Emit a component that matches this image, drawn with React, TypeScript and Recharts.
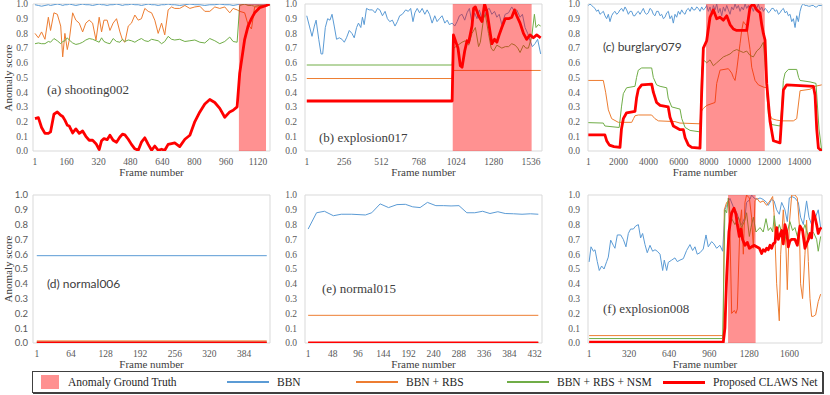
import React from "react";
import { LineChart, Line, XAxis, YAxis, ReferenceArea, Label } from "recharts";

const serif = "'Liberation Serif', 'Times New Roman', serif";
const sans = "Lato, 'Liberation Sans', sans-serif";

const BLUE = "#5b9bd5";
const ORANGE = "#ed7d31";
const GREEN = "#70ad47";
const RED = "#ff0000";

type Pt = [number, number];

const yTicks = [0, 0.1, 0.2, 0.3, 0.4, 0.5, 0.6, 0.7, 0.8, 0.9, 1.0];

// ---- (a) shooting002 ----
const aTicks = [1, 160, 320, 480, 640, 800, 960, 1120];
const aFrames = [1, 18, 34, 51, 68, 79, 96, 113, 130, 140, 151, 163, 173, 190, 206, 223, 240, 256, 273, 290, 307, 323, 335, 347, 363, 377, 393, 410, 427, 440, 452, 469, 485, 502, 519, 535, 552, 569, 586, 602, 619, 636, 652, 669, 686, 702, 727, 753, 778, 803, 828, 853, 878, 903, 928, 953, 978, 995, 1015, 1028, 1053, 1070, 1087, 1103, 1128, 1162, 1178];
const aBBN = [0.995, 0.99, 0.985, 0.99, 0.995, 0.99, 0.995, 1.0, 0.995, 0.99, 0.995, 0.995, 1.0, 0.995, 0.99, 0.995, 1.0, 0.995, 0.995, 0.99, 0.995, 1.0, 0.995, 0.995, 0.99, 0.995, 0.995, 1.0, 0.995, 0.99, 0.995, 0.995, 1.0, 0.995, 0.995, 0.99, 0.995, 1.0, 0.995, 0.995, 0.99, 0.995, 0.995, 1.0, 0.995, 0.995, 0.99, 0.995, 1.0, 0.995, 0.995, 0.99, 0.995, 0.995, 1.0, 0.995, 0.995, 0.99, 0.995, 1.0, 1.0, 1.0, 1.0, 1.0, 1.0, 1.0, 1.0];
const aRBS = [0.8, 0.77, 0.81, 0.76, 0.91, 0.82, 0.94, 0.93, 0.85, 0.64, 0.8, 0.69, 0.755, 0.94, 0.89, 0.87, 0.81, 0.87, 0.89, 0.87, 0.755, 0.91, 0.81, 0.89, 0.89, 0.82, 0.87, 0.9, 0.81, 0.755, 0.74, 0.85, 0.87, 0.925, 0.89, 0.9, 0.97, 0.95, 0.94, 0.89, 0.8, 0.87, 0.79, 0.96, 0.98, 0.97, 0.97, 0.99, 0.97, 0.98, 0.985, 0.95, 0.95, 0.98, 0.97, 0.98, 0.94, 0.97, 0.96, 0.95, 0.94, 0.86, 0.83, 0.98, 0.98, 0.99, 0.99];
const aNSM = [0.73, 0.735, 0.73, 0.73, 0.745, 0.74, 0.765, 0.75, 0.73, 0.745, 0.75, 0.77, 0.755, 0.735, 0.725, 0.73, 0.74, 0.755, 0.765, 0.76, 0.75, 0.74, 0.77, 0.745, 0.735, 0.73, 0.765, 0.745, 0.74, 0.76, 0.745, 0.755, 0.75, 0.74, 0.755, 0.765, 0.75, 0.745, 0.76, 0.755, 0.75, 0.73, 0.745, 0.78, 0.76, 0.755, 0.76, 0.745, 0.75, 0.755, 0.74, 0.735, 0.765, 0.75, 0.73, 0.745, 0.775, 0.745, 0.74, 0.99, 1.0, 0.99, 0.99, 0.985, 0.99, 0.99, 0.99];
const aCLAWS = [0.22, 0.227, 0.16, 0.12, 0.12, 0.13, 0.25, 0.266, 0.243, 0.235, 0.21, 0.175, 0.17, 0.123, 0.15, 0.12, 0.136, 0.1, 0.073, 0.073, 0.05, 0.01, 0.07, 0.084, 0.077, 0.107, 0.073, 0.06, 0.095, 0.115, 0.11, 0.08, 0.045, 0.015, 0.005, 0.06, 0.09, 0.045, 0.005, 0.034, 0.005, 0.012, 0.005, 0.045, 0.05, 0.055, 0.03, 0.08, 0.107, 0.2, 0.266, 0.32, 0.35, 0.33, 0.29, 0.23, 0.266, 0.277, 0.3, 0.53, 0.76, 0.85, 0.9, 0.94, 0.975, 0.99, 1.0];
const aGT: Pt = [1024, 1160];

// ---- (b) explosion017 ----
const bTicks = [1, 256, 512, 768, 1024, 1280, 1536];
const bBBN: Pt[] = [[1, 0.92], [19, 0.85], [37, 0.78], [53, 0.85], [65, 0.89], [83, 0.76], [99, 0.66], [110, 0.66], [128, 0.84], [144, 0.9], [160, 0.89], [174, 0.93], [189, 0.85], [205, 0.76], [224, 0.77], [242, 0.76], [258, 0.74], [273, 0.77], [292, 0.82], [310, 0.8], [326, 0.77], [342, 0.84], [355, 0.87], [371, 0.84], [382, 0.91], [394, 0.86], [410, 0.97], [428, 0.96], [451, 0.96], [469, 0.94], [485, 0.97], [501, 0.96], [519, 0.92], [537, 0.95], [553, 0.9], [569, 0.88], [587, 0.89], [605, 0.85], [621, 0.88], [637, 0.92], [655, 0.93], [678, 0.96], [696, 0.95], [712, 0.97], [728, 0.88], [741, 0.94], [757, 0.97], [773, 0.94], [791, 0.97], [809, 0.93], [825, 0.96], [841, 0.93], [859, 0.87], [877, 0.92], [893, 0.88], [909, 0.9], [927, 0.92], [946, 0.87], [962, 0.89], [977, 0.86], [996, 0.87], [1014, 0.85], [1030, 0.88], [1046, 0.92], [1064, 0.93], [1082, 0.89], [1098, 0.94], [1114, 0.97], [1132, 0.87], [1150, 0.94], [1166, 0.9], [1182, 0.96], [1200, 0.9], [1218, 0.92], [1234, 0.96], [1250, 0.97], [1268, 0.93], [1286, 0.95], [1302, 0.91], [1318, 0.93], [1336, 0.86], [1359, 0.93], [1382, 0.94], [1404, 0.98], [1423, 0.95], [1438, 0.96], [1461, 0.91], [1477, 0.93], [1495, 0.84], [1513, 0.8], [1529, 0.75], [1545, 0.71], [1563, 0.73], [1581, 0.76], [1602, 0.66]];
const bRBS: Pt[] = [[1, 0.493], [996, 0.493], [1000, 0.548], [1602, 0.548]];
const bNSM: Pt[] = [[1, 0.585], [996, 0.585], [1007, 0.7], [1064, 0.74], [1086, 0.75], [1109, 0.72], [1132, 0.8], [1155, 0.84], [1177, 0.71], [1189, 0.74], [1211, 0.9], [1223, 0.93], [1245, 0.8], [1263, 0.7], [1279, 0.68], [1302, 0.72], [1336, 0.7], [1360, 0.71], [1382, 0.71], [1404, 0.73], [1427, 0.72], [1445, 0.7], [1461, 0.67], [1484, 0.72], [1500, 0.7], [1518, 0.7], [1541, 0.78], [1559, 0.93], [1570, 0.84], [1586, 0.86], [1602, 0.85]];
const bCLAWS: Pt[] = [[1, 0.34], [996, 0.34], [1005, 0.79], [1036, 0.7], [1052, 0.58], [1064, 0.57], [1082, 0.68], [1098, 0.75], [1109, 0.74], [1132, 0.85], [1143, 0.97], [1155, 0.98], [1177, 0.92], [1200, 0.88], [1218, 1.0], [1234, 0.95], [1245, 0.88], [1257, 0.8], [1268, 0.73], [1286, 0.76], [1302, 0.74], [1318, 0.79], [1336, 0.84], [1359, 0.9], [1382, 0.9], [1404, 0.91], [1423, 0.96], [1438, 0.92], [1461, 0.87], [1484, 0.8], [1506, 0.76], [1529, 0.79], [1552, 0.77], [1575, 0.79], [1602, 0.77]];
const bGT: Pt = [1000, 1540];

// ---- (c) burglary079 ----
const cTicks = [1, 2000, 4000, 6000, 8000, 10000, 12000, 14000];
const cBBN: Pt[] = [[1, 0.99], [110, 1.0], [222, 0.99], [330, 0.98], [443, 0.97], [550, 0.95], [664, 0.96], [775, 0.93], [886, 0.94], [1000, 0.95], [1107, 0.92], [1217, 0.9], [1328, 0.93], [1438, 0.88], [1549, 0.92], [1660, 0.94], [1770, 0.95], [1880, 0.93], [1991, 0.94], [2100, 0.96], [2212, 0.97], [2320, 0.95], [2434, 0.98], [2544, 0.96], [2655, 0.93], [2765, 0.95], [2876, 0.95], [2990, 0.92], [3097, 0.92], [3210, 0.94], [3318, 0.95], [3429, 0.93], [3540, 0.95], [3650, 0.97], [3760, 0.94], [3871, 0.93], [3982, 0.94], [4090, 0.97], [4203, 0.96], [4313, 0.93], [4424, 0.92], [4530, 0.95], [4645, 0.95], [4760, 0.92], [4866, 0.93], [4980, 0.9], [5087, 0.91], [5200, 0.94], [5309, 0.95], [5419, 0.9], [5530, 0.92], [5640, 0.87], [5751, 0.93], [5860, 0.91], [5972, 0.95], [6083, 0.93], [6193, 0.96], [6300, 0.94], [6414, 0.93], [6525, 0.96], [6636, 0.97], [6750, 0.95], [6857, 0.98], [6970, 0.96], [7078, 0.96], [7190, 0.98], [7299, 0.97], [7410, 0.95], [7520, 0.98], [7631, 0.96], [7741, 0.97], [7852, 0.99], [7960, 0.95], [8073, 0.98], [8185, 0.93], [8295, 0.99], [8405, 0.96], [8516, 1.0], [8630, 0.94], [8737, 0.97], [8850, 0.92], [8958, 0.98], [9070, 0.95], [9180, 0.99], [9290, 0.96], [9400, 0.93], [9511, 0.98], [9621, 0.96], [9732, 1.0], [9843, 0.97], [9953, 0.99], [10064, 0.95], [10174, 0.98], [10285, 0.96], [10400, 1.0], [10506, 0.97], [10617, 0.99], [10727, 0.96], [10838, 0.98], [10948, 0.95], [11059, 0.99], [11170, 0.97], [11280, 1.0], [11390, 0.96], [11501, 0.98], [11612, 0.95], [11722, 0.97], [11833, 0.96], [11944, 0.94], [12054, 0.95], [12165, 0.97], [12276, 0.97], [12390, 0.95], [12497, 0.96], [12610, 0.93], [12718, 0.94], [12830, 0.96], [12940, 0.97], [13050, 0.94], [13160, 0.95], [13270, 0.92], [13381, 0.93], [13492, 0.88], [13602, 0.9], [13713, 0.84], [13823, 0.92], [13934, 0.88], [14044, 0.95], [14155, 0.99], [14265, 1.0], [14380, 0.99], [14487, 0.99], [14600, 0.985], [14708, 0.985], [14820, 0.99], [14930, 0.99], [15040, 0.98], [15150, 0.98], [15261, 0.99], [15372, 0.99], [15482, 0.99]];
const cRBS: Pt[] = [[1, 0.48], [996, 0.48], [1150, 0.4], [1330, 0.28], [1550, 0.22], [1990, 0.195], [2880, 0.195], [3000, 0.22], [3100, 0.24], [3320, 0.245], [4200, 0.245], [4420, 0.22], [4650, 0.205], [5750, 0.2], [6080, 0.19], [7410, 0.185], [7500, 0.27], [7631, 0.29], [7852, 0.31], [8405, 0.33], [8516, 0.46], [8737, 0.55], [9290, 0.56], [9511, 0.53], [9621, 0.5], [9732, 0.48], [9843, 0.55], [9953, 0.64], [10064, 0.73], [10174, 0.82], [10285, 0.88], [10506, 0.85], [10727, 0.69], [10838, 0.57], [11059, 0.48], [11280, 0.45], [11612, 0.435], [11833, 0.43], [11944, 0.28], [12165, 0.22], [12497, 0.21], [12829, 0.205], [13600, 0.205], [13823, 0.22], [14044, 0.41], [14708, 0.42], [15040, 0.44], [15482, 0.45]];
const cNSM: Pt[] = [[1, 0.193], [996, 0.19], [1100, 0.17], [2050, 0.16], [2200, 0.3], [2323, 0.39], [2540, 0.43], [3097, 0.44], [3200, 0.5], [3318, 0.55], [3540, 0.565], [4203, 0.565], [4313, 0.5], [4530, 0.45], [4760, 0.44], [5200, 0.43], [5300, 0.36], [5530, 0.3], [6083, 0.285], [6200, 0.22], [6420, 0.16], [6750, 0.14], [7410, 0.13], [7520, 0.55], [7631, 0.62], [7852, 0.6], [8073, 0.62], [8295, 0.58], [8516, 0.6], [8737, 0.62], [8958, 0.64], [9180, 0.65], [9400, 0.66], [9621, 0.68], [9843, 0.69], [10064, 0.68], [10285, 0.67], [10506, 0.68], [10727, 0.65], [10948, 0.64], [11170, 0.68], [11390, 0.7], [11612, 0.74], [11720, 0.6], [11833, 0.4], [11944, 0.25], [12165, 0.18], [12718, 0.17], [12829, 0.3], [12939, 0.48], [13050, 0.53], [13270, 0.555], [13823, 0.555], [13950, 0.5], [14044, 0.48], [14708, 0.47], [15100, 0.46], [15300, 0.15], [15482, 0.0]];
const cCLAWS: Pt[] = [[1, 0.11], [1100, 0.11], [1217, 0.07], [1400, 0.04], [1700, 0.03], [2102, 0.025], [2200, 0.15], [2323, 0.22], [2540, 0.26], [3097, 0.27], [3200, 0.36], [3318, 0.42], [3540, 0.45], [4203, 0.455], [4313, 0.4], [4530, 0.33], [4760, 0.31], [5300, 0.3], [5420, 0.23], [5640, 0.17], [6083, 0.145], [6304, 0.145], [6420, 0.09], [6640, 0.04], [6860, 0.025], [7410, 0.02], [7520, 0.4], [7631, 0.7], [7852, 0.75], [8073, 0.91], [8295, 0.96], [8516, 0.9], [8737, 0.91], [8958, 0.89], [9180, 0.92], [9400, 0.86], [9621, 0.83], [9843, 0.82], [10506, 0.82], [10617, 0.9], [10727, 0.98], [10948, 1.0], [11170, 0.96], [11390, 0.94], [11501, 0.86], [11612, 0.8], [11722, 0.755], [11833, 0.46], [12054, 0.2], [12276, 0.07], [12718, 0.055], [12940, 0.415], [13160, 0.45], [14930, 0.44], [15040, 0.38], [15150, 0.15], [15261, 0.02], [15482, 0.0]];
const cGT: Pt = [7810, 11705];

// ---- (d) normal006 ----
const dTicks = [1, 64, 128, 192, 256, 320, 384];
const dBBN: Pt[] = [[1, 0.59], [426, 0.59]];
const dRBS: Pt[] = [[1, 0.014], [426, 0.014]];
const dNSM: Pt[] = [[1, 0.005], [426, 0.005]];
const dCLAWS: Pt[] = [[1, 0.0], [426, 0.0]];

// ---- (e) normal015 ----
const eTicks = [1, 48, 96, 144, 192, 240, 288, 336, 384, 432];
const eBBN: Pt[] = [[1, 0.77], [17, 0.88], [32, 0.89], [49, 0.86], [64, 0.87], [84, 0.87], [110, 0.865], [122, 0.88], [138, 0.94], [154, 0.915], [170, 0.935], [186, 0.937], [200, 0.92], [214, 0.915], [228, 0.95], [244, 0.928], [259, 0.928], [273, 0.926], [288, 0.928], [303, 0.88], [318, 0.88], [333, 0.89], [347, 0.875], [362, 0.887], [376, 0.875], [392, 0.873], [408, 0.87], [424, 0.873], [439, 0.87]];
const eRBS: Pt[] = [[1, 0.187], [439, 0.187]];
const eNSM: Pt[] = [[1, 0.003], [439, 0.003]];
const eCLAWS: Pt[] = [[1, 0.0], [439, 0.0]];

// ---- (f) explosion008 ----
const fTicks = [1, 320, 640, 960, 1280, 1600];
const fBBN: Pt[] = [[1, 0.548], [16, 0.65], [35, 0.62], [48, 0.63], [66, 0.55], [82, 0.49], [101, 0.52], [120, 0.5], [141, 0.55], [154, 0.58], [173, 0.695], [194, 0.66], [207, 0.64], [226, 0.73], [253, 0.73], [274, 0.7], [295, 0.65], [314, 0.74], [332, 0.77], [354, 0.77], [372, 0.79], [394, 0.8], [412, 0.71], [428, 0.74], [447, 0.665], [465, 0.61], [487, 0.66], [508, 0.62], [527, 0.63], [545, 0.62], [567, 0.6], [588, 0.49], [601, 0.56], [620, 0.49], [633, 0.545], [660, 0.56], [686, 0.575], [705, 0.55], [726, 0.56], [753, 0.57], [779, 0.625], [806, 0.665], [827, 0.625], [846, 0.65], [864, 0.6], [886, 0.61], [912, 0.635], [934, 0.73], [952, 0.65], [979, 0.685], [997, 0.67], [1019, 0.64], [1045, 0.66], [1067, 0.62], [1085, 0.9], [1099, 0.93], [1125, 0.977], [1152, 0.92], [1179, 0.88], [1205, 0.82], [1218, 0.8], [1245, 0.85], [1258, 0.95], [1285, 0.97], [1298, 1.0], [1317, 0.98], [1338, 0.97], [1365, 0.98], [1391, 0.97], [1418, 0.95], [1431, 0.93], [1458, 0.97], [1477, 0.96], [1498, 0.9], [1519, 0.87], [1538, 0.95], [1564, 0.9], [1583, 0.82], [1599, 0.98], [1618, 0.99], [1644, 0.98], [1671, 0.95], [1689, 0.85], [1711, 0.8], [1737, 0.96], [1756, 0.85], [1777, 0.8], [1804, 0.84], [1830, 0.9], [1849, 0.78]];
const fRBS: Pt[] = [[1, 0.05], [1072, 0.05], [1080, 0.9], [1099, 0.95], [1117, 0.96], [1125, 0.75], [1139, 0.2], [1160, 0.22], [1173, 0.2], [1184, 0.23], [1205, 0.8], [1218, 0.9], [1232, 0.6], [1245, 0.95], [1258, 1.0], [1280, 0.98], [1298, 0.85], [1312, 0.64], [1325, 0.96], [1338, 0.98], [1365, 0.95], [1391, 0.96], [1418, 0.93], [1445, 0.96], [1466, 0.99], [1477, 0.88], [1485, 0.7], [1498, 0.4], [1519, 0.15], [1530, 0.6], [1551, 0.9], [1572, 0.65], [1583, 0.36], [1599, 0.8], [1618, 1.0], [1644, 1.0], [1663, 0.98], [1679, 0.8], [1689, 0.4], [1705, 0.3], [1724, 0.6], [1737, 0.83], [1751, 0.55], [1764, 0.3], [1777, 0.18], [1790, 0.18], [1809, 0.19], [1830, 0.28], [1849, 0.33]];
const fNSM: Pt[] = [[1, 0.03], [1067, 0.03], [1085, 0.9], [1099, 0.88], [1112, 0.98], [1125, 0.88], [1139, 0.84], [1165, 0.8], [1192, 0.85], [1218, 0.78], [1245, 0.83], [1258, 0.88], [1280, 0.72], [1293, 0.78], [1312, 0.85], [1333, 0.75], [1344, 0.76], [1365, 0.78], [1391, 0.75], [1413, 0.84], [1431, 0.76], [1450, 0.78], [1466, 0.75], [1479, 0.86], [1498, 0.73], [1519, 0.8], [1538, 0.75], [1564, 0.7], [1583, 0.75], [1604, 0.82], [1625, 0.76], [1644, 0.78], [1663, 0.72], [1684, 0.8], [1705, 0.75], [1724, 0.8], [1737, 0.76], [1759, 0.7], [1777, 0.76], [1796, 0.74], [1817, 0.7], [1830, 0.62], [1849, 0.72]];
const fCLAWS: Pt[] = [[1, 0.005], [1072, 0.005], [1085, 0.1], [1099, 0.45], [1117, 0.75], [1139, 0.88], [1157, 0.91], [1173, 0.87], [1184, 0.8], [1200, 0.72], [1213, 0.77], [1226, 0.7], [1245, 0.66], [1264, 0.68], [1280, 0.64], [1298, 0.65], [1317, 0.66], [1338, 0.65], [1360, 0.64], [1378, 0.605], [1391, 0.63], [1405, 0.62], [1418, 0.64], [1431, 0.63], [1445, 0.66], [1458, 0.64], [1471, 0.67], [1485, 0.68], [1498, 0.78], [1511, 0.7], [1524, 0.73], [1538, 0.76], [1551, 0.67], [1564, 0.8], [1577, 0.76], [1591, 0.65], [1604, 0.69], [1618, 0.7], [1644, 0.7], [1663, 0.66], [1684, 0.79], [1705, 0.76], [1724, 0.64], [1737, 0.67], [1751, 0.7], [1764, 0.74], [1777, 0.71], [1790, 0.89], [1804, 0.85], [1817, 0.8], [1830, 0.74], [1843, 0.77], [1857, 0.78]];
const fGT: Pt = [1110, 1330];

const legendItems = [
  { name: "BBN", color: BLUE, width: 1.5 },
  { name: "BBN + RBS", color: ORANGE, width: 1.5 },
  { name: "BBN + RBS + NSM", color: GREEN, width: 1.5 },
  { name: "Proposed CLAWS Net", color: RED, width: 3 },
];

const toPts = (arr: Pt[]) => arr.map(([f, v]) => ({ f, v }));
const zipPts = (frames: number[], vals: number[]) => frames.map((f, i) => ({ f, v: vals[i] }));

interface Series {
  data: { f: number; v: number }[];
  color: string;
  width: number;
}

interface PanelProps {
  plotLeft: number;
  plotTop: number;
  plotW: number;
  plotH: number;
  domain: [number, number];
  ticks: number[];
  gt?: Pt;
  series: Series[];
  gap: number;
  yTickFont?: string;
}

function Panel({ plotLeft, plotTop, plotW, plotH, domain, ticks, gt, series, gap, yTickFont = serif }: PanelProps) {
  const yAxisW = 33;
  const top = 8;
  const right = 6;
  const xAxisH = 25;
  const w = yAxisW + plotW + right;
  const h = top + plotH + xAxisH + 1;
  return (
    <div style={{ position: "absolute", left: plotLeft - yAxisW, top: plotTop - top, width: w, height: h }}>
      <LineChart width={w} height={h} margin={{ top, right, left: 0, bottom: 1 }}>
        <XAxis
          dataKey="f"
          type="number"
          domain={domain}
          ticks={ticks}
          interval={0}
          allowDataOverflow
          height={xAxisH}
          axisLine={false}
          tickLine={false}
          tickSize={4}
          tickMargin={3}
          tick={{ fill: "#595959", fontSize: 9.5, fontFamily: serif }}
        >
          <Label
            value="Frame number"
            position="insideBottom"
            offset={0}
            fill="#404040"
            fontSize={11}
            fontFamily={serif}
            style={{ fontFamily: serif, fontWeight: 400 }}
          />
        </XAxis>
        <YAxis
          type="number"
          domain={[0, 1]}
          ticks={yTicks}
          interval={0}
          allowDataOverflow
          width={yAxisW}
          axisLine={false}
          tickLine={false}
          tickSize={gap - 2}
          tickMargin={2}
          tickFormatter={(v: number) => v.toFixed(1)}
          tick={{ fill: "#595959", fontSize: 9.5, fontFamily: yTickFont }}
        />
        <ReferenceArea x1={domain[0]} x2={domain[1]} y1={0} y2={1} fill="none" stroke="#d9d9d9" strokeWidth={1} />
        {series.map((s, i) => (
          <Line
            key={i}
            data={s.data}
            dataKey="v"
            type="linear"
            stroke={s.color}
            strokeWidth={s.width}
            dot={false}
            activeDot={false}
            isAnimationActive={false}
            strokeLinejoin="round"
          />
        ))}
      </LineChart>
      {gt && (
        // ground-truth band drawn in a second, transparent chart so it lies over the lines
        <div style={{ position: "absolute", left: 0, top: 0 }}>
          <LineChart width={w} height={h} margin={{ top, right, left: yAxisW, bottom: 1 + xAxisH }}>
            <XAxis dataKey="f" type="number" domain={domain} allowDataOverflow hide />
            <YAxis type="number" domain={[0, 1]} allowDataOverflow hide />
            <ReferenceArea x1={gt[0]} x2={gt[1]} y1={0} y2={1} fill="#ff0000" fillOpacity={0.43} stroke="none" />
          </LineChart>
        </div>
      )}
    </div>
  );
}

const mk = (bbn: any[], rbs: any[], nsm: any[], claws: any[]): Series[] => [
  { data: bbn, color: BLUE, width: 1 },
  { data: rbs, color: ORANGE, width: 1 },
  { data: nsm, color: GREEN, width: 1 },
  { data: claws, color: RED, width: 2.8 },
];

function Title({ x, y, text, font, size = 13 }: { x: number; y: number; text: string; font: string; size?: number }) {
  return (
    <div
      style={{
        position: "absolute",
        left: x,
        top: y - size / 2,
        fontFamily: font,
        fontSize: size,
        lineHeight: `${size}px`,
        color: "#404040",
        whiteSpace: "nowrap",
      }}
    >
      {text}
    </div>
  );
}

function YTitle({ cy }: { cy: number }) {
  return (
    <div
      style={{
        position: "absolute",
        left: 8 - 50,
        top: cy - 7,
        width: 100,
        height: 14,
        lineHeight: "14px",
        textAlign: "center",
        transform: "rotate(-90deg)",
        fontFamily: serif,
        fontSize: 11,
        color: "#404040",
      }}
    >
      Anomaly score
    </div>
  );
}

export default function App() {
  return (
    <div style={{ position: "absolute", left: 0, top: 0, width: 830, height: 395, background: "#fff", overflow: "hidden" }}>
      <Panel plotLeft={33} plotTop={4} plotW={237} plotH={147} domain={[-9, 1180]} ticks={aTicks} gt={aGT} gap={5}
        series={mk(zipPts(aFrames, aBBN), zipPts(aFrames, aRBS), zipPts(aFrames, aNSM), zipPts(aFrames, aCLAWS))} />
      <Panel plotLeft={305} plotTop={4} plotW={237} plotH={147} domain={[-11, 1611]} ticks={bTicks} gt={bGT} gap={8}
        series={mk(toPts(bBBN), toPts(bRBS), toPts(bNSM), toPts(bCLAWS))} />
      <Panel plotLeft={588} plotTop={4} plotW={234} plotH={147} domain={[-20, 15500]} ticks={cTicks} gt={cGT} gap={8}
        series={mk(toPts(cBBN), toPts(cRBS), toPts(cNSM), toPts(cCLAWS))} />
      <Panel plotLeft={33} plotTop={195} plotW={237} plotH={148} domain={[-6, 432]} ticks={dTicks} gap={5} yTickFont={sans}
        series={mk(toPts(dBBN), toPts(dRBS), toPts(dNSM), toPts(dCLAWS))} />
      <Panel plotLeft={305} plotTop={195} plotW={237} plotH={148} domain={[-5, 446]} ticks={eTicks} gap={8}
        series={mk(toPts(eBBN), toPts(eRBS), toPts(eNSM), toPts(eCLAWS))} />
      <Panel plotLeft={588} plotTop={195} plotW={234} plotH={148} domain={[-8, 1860]} ticks={fTicks} gt={fGT} gap={8}
        series={mk(toPts(fBBN), toPts(fRBS), toPts(fNSM), toPts(fCLAWS))} />

      <Title x={47} y={89} text="(a) shooting002" font={serif} />
      <Title x={319} y={137} text="(b) explosion017" font={serif} />
      <Title x={603} y={47} text="(c) burglary079" font={sans} size={12} />
      <Title x={47} y={284} text="(d) normal006" font={sans} size={12} />
      <Title x={322} y={288} text="(e) normal015" font={serif} />
      <Title x={603} y={308} text="(f) explosion008" font={serif} />

      <YTitle cy={78} />
      <YTitle cy={269} />

      <div
        style={{
          position: "absolute",
          left: 32,
          top: 371,
          width: 789,
          height: 20,
          border: "1px solid #404040",
          boxShadow: "1px 1px 0 #404040",
          fontFamily: serif,
          fontSize: 11.5,
          color: "#262626",
        }}
      >
        <div style={{ position: "absolute", left: 8, top: 3, width: 18, height: 14, background: "#ff9191" }} />
        <div style={{ position: "absolute", left: 35, top: 3, lineHeight: "14px", whiteSpace: "nowrap" }}>Anomaly Ground Truth</div>
        {legendItems.map((it, i) => {
          const lx = [194, 323, 474, 630][i];
          return (
            <React.Fragment key={it.name}>
              <div style={{ position: "absolute", left: lx, top: 10 - it.width / 2, width: 42, height: it.width, background: it.color }} />
              <div style={{ position: "absolute", left: lx + 50, top: 3, lineHeight: "14px", whiteSpace: "nowrap" }}>{it.name}</div>
            </React.Fragment>
          );
        })}
      </div>
    </div>
  );
}
